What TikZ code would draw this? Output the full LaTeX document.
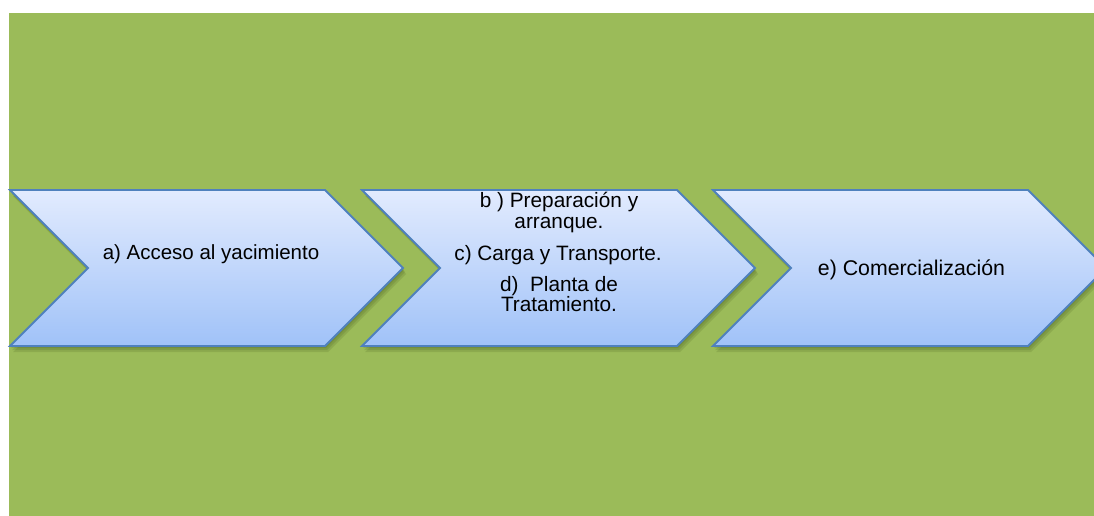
\documentclass[tikz,border=0pt]{standalone}
\usepackage{fontspec}
\setmainfont{Liberation Sans}
\definecolor{bg}{RGB}{155,187,89}
\definecolor{cTop}{RGB}{226,235,254}
\definecolor{cBot}{RGB}{160,194,248}
\definecolor{cBorder}{RGB}{79,129,189}
\definecolor{shadowc}{RGB}{40,60,10}
\newcommand\chevpath[1]{(#1,190) -- ++(315,0) -- ++(78,78) -- ++(-78,78) -- ++(-315,0) -- ++(78,-78) -- cycle}
\begin{document}
\begin{tikzpicture}[x=1pt,y=-1pt,
  chev/.style={top color=cTop, bottom color=cBot, draw=cBorder, line width=1.8pt, line join=miter},
  shad/.style={fill=shadowc, opacity=0.13},
  lbl/.style={anchor=base, inner sep=0pt, text=black}]
\useasboundingbox (0,0) rectangle (1094,516);
\clip (0,0) rectangle (1094,516);
\fill[bg] (9,13) rectangle (1094,516);
% shadows
\foreach \sx/\sy in {1/2, 2/4, 3/6}{
  \fill[shad, shift={(\sx,\sy)}] \chevpath{10};
  \fill[shad, shift={(\sx,\sy)}] \chevpath{362};
  \fill[shad, shift={(\sx,\sy)}] \chevpath{713};
}
% chevrons
\path[chev] \chevpath{10};
\path[chev] \chevpath{362};
\path[chev] \chevpath{713};
% labels
\node[lbl, font=\fontsize{20.5}{24}\selectfont] (a) at (211,259.5) {a) Acceso al yacimiento};
\node[lbl, font=\fontsize{20.8}{24}\selectfont] (b1) at (559,207.3) {b ) Preparación y};
\node[lbl, font=\fontsize{20.8}{24}\selectfont] (b2) at (559,228.3) {arranque.};
\node[lbl, font=\fontsize{20.8}{24}\selectfont] (c) at (558,260.7) {c) Carga y Transporte.};
\node[lbl, font=\fontsize{20.8}{24}\selectfont] (d1) at (559,291.7) {d)\ \ Planta de};
\node[lbl, font=\fontsize{20.8}{24}\selectfont] (d2) at (559,311.7) {Tratamiento.};
\node[lbl, font=\fontsize{21.3}{24}\selectfont] (e) at (911.5,275.7) {e) Comercialización};
\end{tikzpicture}
\end{document}
